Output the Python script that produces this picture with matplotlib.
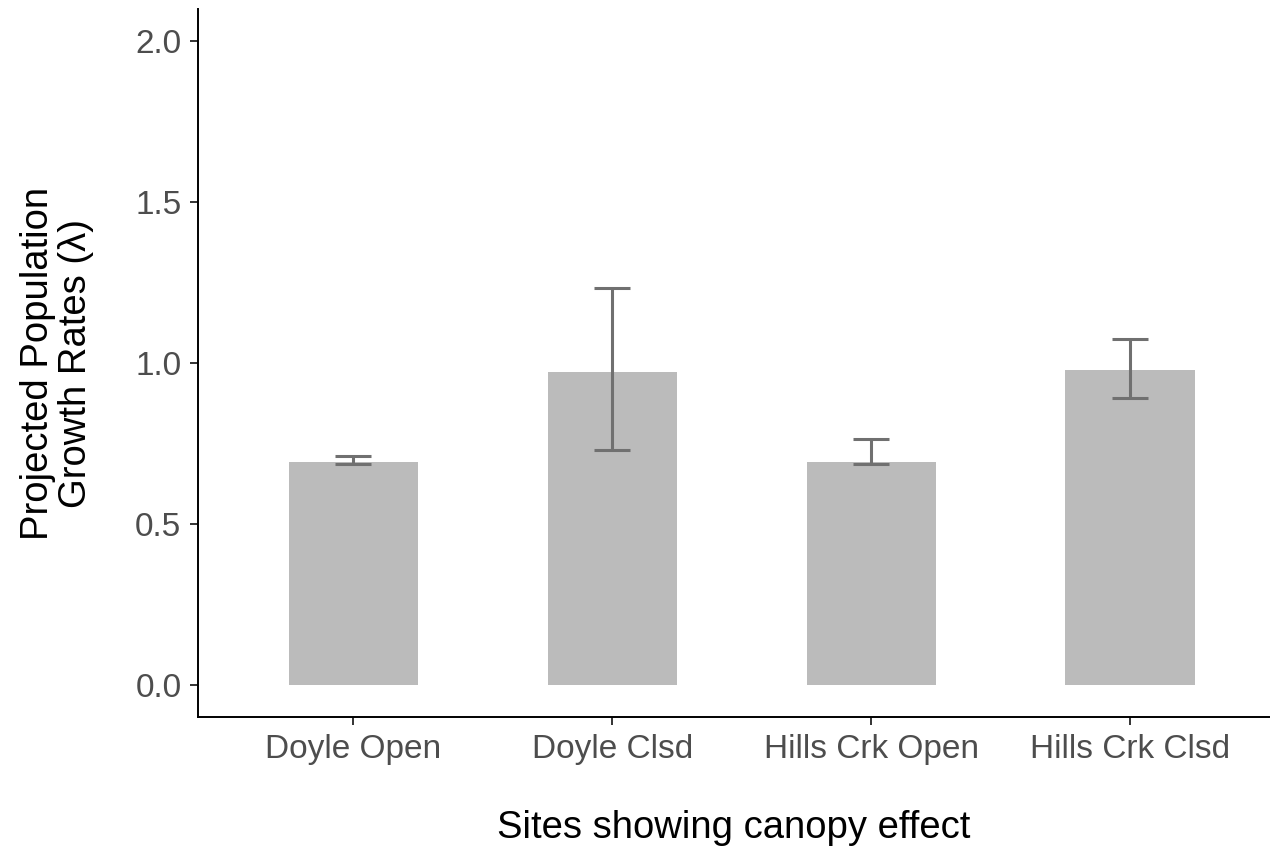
import matplotlib
matplotlib.use("Agg")
import matplotlib.pyplot as plt

plt.rcParams['font.family'] = ['Liberation Sans', 'DejaVu Sans']

# Data
sites = ["Doyle Open", "Doyle Clsd", "Hills Crk Open", "Hills Crk Clsd"]
growth = [0.693, 0.972, 0.693, 0.978]
err_low = [0.686, 0.730, 0.686, 0.891]
err_high = [0.711, 1.233, 0.764, 1.075]
yticks = [0.0, 0.5, 1.0, 1.5, 2.0]

fig = plt.figure(figsize=(12.7, 8.46), dpi=100)
ax = fig.add_axes([0.156, 0.1525, 0.844, 0.8365])

x = list(range(1, len(sites) + 1))
ax.bar(x, growth, width=0.5, color="#BBBBBB", zorder=1)

lower = [g - lo for g, lo in zip(growth, err_low)]
upper = [hi - g for g, hi in zip(growth, err_high)]
ax.errorbar(x, growth, yerr=[lower, upper], fmt="none", ecolor="#707070",
            elinewidth=2.2, capsize=13, capthick=2.2, zorder=2)

ax.set_xlim(0.4, 4.54)
ax.set_ylim(-0.1, 2.1)
ax.set_xticks(x)
ax.set_xticklabels(sites)
ax.set_yticks(yticks)
ax.set_yticklabels([f"{t:.1f}" for t in yticks])

for side in ["top", "right"]:
    ax.spines[side].set_visible(False)
for side in ["left", "bottom"]:
    ax.spines[side].set_linewidth(1.4)
    ax.spines[side].set_color("black")

ax.tick_params(axis="both", labelsize=24, labelcolor="#4D4D4D", color="#333333",
               length=6, width=1.4, pad=6)

ax.set_xlabel("Sites showing canopy effect", fontsize=27.5, color="black", labelpad=33)
ax.set_ylabel("Projected Population\nGrowth Rates (\u03bb)", fontsize=27.5, color="black",
              labelpad=30, linespacing=1.05)

fig.savefig("out.png", dpi=100)
